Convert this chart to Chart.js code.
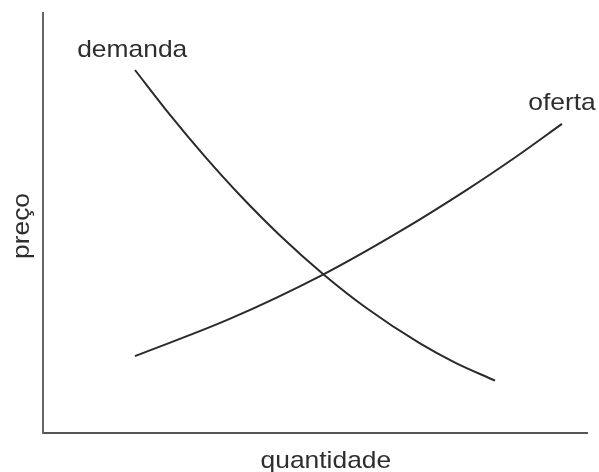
<!DOCTYPE html>
<html>
<head>
<meta charset="utf-8">
<script src="https://cdn.jsdelivr.net/npm/chart.js@4"></script>
<style>
  html, body { margin: 0; padding: 0; background: #fff; }
  #wrap { width: 599px; height: 472px; }
</style>
</head>
<body>
<div id="wrap"><canvas id="grafico"></canvas></div>
<script>
// curvas (quantidade, preço) em escala 0-100
const demandaQ = [16.91, 23.35, 29.78, 36.21, 43.57, 51.47, 59.38, 69.3, 75.74, 83.09];
const demandaP = [86.43, 75.73, 65.79, 56.6, 47.02, 37.86, 29.82, 21.32, 16.76, 12.47];

const ofertaQ = [16.9, 34.2, 51.3, 65.6, 77.9, 87.1, 95.4];
const ofertaP = [18.3, 27.1, 37.6, 48.0, 57.9, 65.9, 73.6];

const tituloX = "quantidade";
const tituloY = "preço";

const pontos = (xs, ys) => xs.map((x, i) => ({ x: x, y: ys[i] }));

const fonte = '24px "Liberation Sans", Arial, sans-serif';
const corTexto = "#2e2e2e";
const largura = 1.1; // o texto da figura é um pouco esticado

function texto(ctx, s, x, y) {
  ctx.save();
  ctx.translate(x, y);
  ctx.scale(largura, 1);
  ctx.fillText(s, 0, 0);
  ctx.restore();
}

// rótulos das curvas e dos eixos
const rotulos = {
  id: "rotulos",
  afterDraw(chart) {
    const ctx = chart.ctx;
    const sx = chart.scales.x;
    const sy = chart.scales.y;
    const area = chart.chartArea;
    ctx.save();
    ctx.font = fonte;
    ctx.fillStyle = corTexto;
    ctx.textAlign = "center";
    ctx.textBaseline = "middle";
    texto(ctx, "demanda", sx.getPixelForValue(16.4), sy.getPixelForValue(91.2));
    texto(ctx, "oferta", sx.getPixelForValue(95.4), sy.getPixelForValue(78.5));
    texto(ctx, tituloX, sx.getPixelForValue(52), area.bottom + 28);
    ctx.translate(22, (area.top + area.bottom) / 2 + 3);
    ctx.rotate(-Math.PI / 2);
    texto(ctx, tituloY, 0, 0);
    ctx.restore();
  },
};

const config = {
  type: "scatter",
  data: {
    datasets: [
      {
        label: "demanda",
        data: pontos(demandaQ, demandaP),
        showLine: true,
        borderColor: "#2a2a2a",
        borderWidth: 2,
        pointRadius: 0,
        cubicInterpolationMode: "monotone",
      },
      {
        label: "oferta",
        data: pontos(ofertaQ, ofertaP),
        showLine: true,
        borderColor: "#2a2a2a",
        borderWidth: 2,
        pointRadius: 0,
        cubicInterpolationMode: "monotone",
      },
    ],
  },
  options: {
    responsive: true,
    maintainAspectRatio: false,
    animation: false,
    layout: { padding: { left: 43, right: 12, top: 13, bottom: 39 } },
    plugins: {
      legend: { display: false },
      tooltip: { enabled: false },
    },
    scales: {
      x: {
        type: "linear",
        min: 0,
        max: 100,
        grid: { display: false, drawTicks: false },
        ticks: { display: false },
        border: { display: true, color: "#555", width: 2 },
      },
      y: {
        type: "linear",
        min: 0,
        max: 100,
        grid: { display: false, drawTicks: false },
        ticks: { display: false },
        border: { display: true, color: "#666", width: 2 },
      },
    },
  },
  plugins: [rotulos],
};

new Chart(document.querySelector("#grafico"), config);
</script>
</body>
</html>
